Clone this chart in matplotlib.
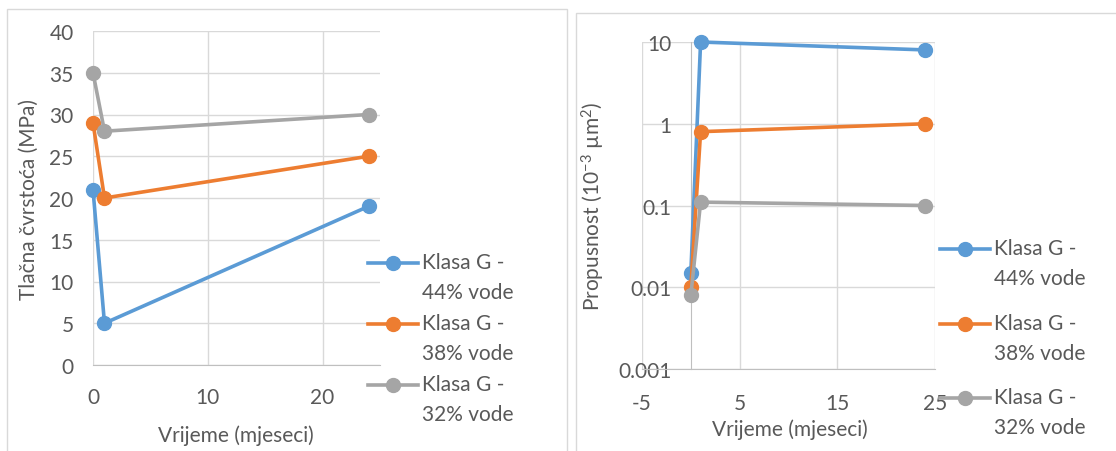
import matplotlib
matplotlib.use("Agg")
import matplotlib.pyplot as plt
from matplotlib.lines import Line2D
from matplotlib.patches import Rectangle
from matplotlib.ticker import FixedLocator, FuncFormatter

plt.rcParams['font.family'] = ['Lato', 'DejaVu Sans']
plt.rcParams['mathtext.fontset'] = 'custom'
plt.rcParams['mathtext.rm'] = 'Lato'
plt.rcParams['mathtext.it'] = 'Lato:italic'
plt.rcParams['mathtext.bf'] = 'Lato:bold'
plt.rcParams['axes.unicode_minus'] = False

# ---- data ----
months = [0, 1, 24]
series_labels = ["Klasa G -", "Klasa G -", "Klasa G -"]
series_second = ["44% vode", "38% vode", "32% vode"]
colors = ["#5B9BD5", "#ED7D31", "#A5A5A5"]

strength_44 = [21, 5, 19]
strength_38 = [29, 20, 25]
strength_32 = [35, 28, 30]

perm_44 = [0.015, 10, 8]
perm_38 = [0.01, 0.8, 1.0]
perm_32 = [0.008, 0.11, 0.1]

left_yticks = [0, 5, 10, 15, 20, 25, 30, 35, 40]
left_xticks = [0, 10, 20]
right_yticks = [0.001, 0.01, 0.1, 1, 10]
right_xticks = [-5, 5, 15, 25]

TEXT = "#595959"
GRID = "#D9D9D9"
AXLINE = "#BFBFBF"
FS = 15

W, H = 1116, 452
fig = plt.figure(figsize=(W / 100, H / 100), dpi=100)

# chart frames
fig.patches.append(Rectangle((7 / W, -0.05), (567 - 7) / W, 1.05 - 10 / H,
                             transform=fig.transFigure, fill=False,
                             edgecolor=GRID, linewidth=1))
fig.patches.append(Rectangle((576 / W, -0.05), (1130 - 576) / W, 1.05 - 14 / H,
                             transform=fig.transFigure, fill=False,
                             edgecolor=GRID, linewidth=1))


def px_axes(x0, y0, x1, y1):
    return fig.add_axes([x0 / W, 1 - y1 / H, (x1 - x0) / W, (y1 - y0) / H])


def style_common(ax):
    for s in ax.spines.values():
        s.set_visible(False)
    ax.tick_params(length=0, colors=TEXT, labelsize=FS)
    ax.grid(True, color=GRID, linewidth=1)
    ax.set_axisbelow(True)


def legend_block(ax, lines, firsts, seconds, x_px, top_px, spacing):
    handles, labels = [], []
    for ln, l1, l2 in zip(lines, firsts, seconds):
        handles.append(ln)
        labels.append(l1)
        handles.append(Line2D([], [], linestyle='none'))
        labels.append(l2)
    leg = ax.legend(handles, labels, loc='upper left',
                    bbox_to_anchor=(x_px / W, 1 - top_px / H),
                    bbox_transform=fig.transFigure, frameon=False,
                    borderpad=0, borderaxespad=0, fontsize=FS,
                    handlelength=2.4, handletextpad=0.19,
                    labelspacing=spacing, handleheight=0.0, labelcolor=TEXT)
    return leg


# ---------------- left chart ----------------
ax1 = px_axes(93, 32, 380, 366)
style_common(ax1)
lines1 = []
for vals, c in zip([strength_44, strength_38, strength_32], colors):
    ln, = ax1.plot(months, vals, color=c, linewidth=2.6, marker='o',
                   markersize=10, clip_on=False, zorder=3)
    lines1.append(ln)
ax1.set_xlim(0, 25)
ax1.set_ylim(0, 40)
ax1.xaxis.set_major_locator(FixedLocator(left_xticks))
ax1.yaxis.set_major_locator(FixedLocator(left_yticks))
ax1.spines['bottom'].set_visible(True)
ax1.spines['bottom'].set_color(AXLINE)
ax1.tick_params(axis='y', pad=14)
ax1.tick_params(axis='x', pad=16)
ax1.set_xlabel("Vrijeme (mjeseci)", fontsize=FS, color=TEXT)
ax1.set_ylabel("Tlačna čvrstoća (MPa)", fontsize=FS, color=TEXT)
ax1.xaxis.set_label_coords(0.498, -0.178)
ax1.yaxis.set_label_coords(-0.19, 0.5)
legend_block(ax1, lines1, series_labels, series_second, 368, 253, 0.5)

# ---------------- right chart ----------------
ax2 = px_axes(642, 43, 935, 370)
style_common(ax2)
lines2 = []
for vals, c in zip([perm_44, perm_38, perm_32], colors):
    ln, = ax2.plot(months, vals, color=c, linewidth=2.6, marker='o',
                   markersize=10, clip_on=False, zorder=3)
    lines2.append(ln)
ax2.set_yscale('log')
ax2.set_xlim(-5, 25)
ax2.set_ylim(0.001, 10)
ax2.xaxis.set_major_locator(FixedLocator(right_xticks))
ax2.yaxis.set_major_locator(FixedLocator(right_yticks))
ax2.yaxis.set_minor_locator(FixedLocator([]))
ax2.yaxis.set_major_formatter(FuncFormatter(lambda v, p: f"{v:g}"))
ax2.spines['left'].set_visible(True)
ax2.spines['left'].set_position(('data', 0))
ax2.spines['left'].set_color(AXLINE)
ax2.spines['bottom'].set_visible(True)
ax2.spines['bottom'].set_color(AXLINE)
ax2.tick_params(axis='y', pad=14)
ax2.tick_params(axis='x', pad=17)
ax2.set_xlabel("Vrijeme (mjeseci)", fontsize=FS, color=TEXT)
ax2.set_ylabel("Propusnost (10$^{\\mathregular{-3}}$ µm$^{\\mathregular{2}}$)",
               fontsize=FS, color=TEXT)
ax2.xaxis.set_label_coords(0.505, -0.152)
ax2.yaxis.set_label_coords(-0.12, 0.5)
# one legend block per series (Excel spaces these entries unevenly)
right_tops = [239, 314, 388]
for i, top in enumerate(right_tops):
    leg = legend_block(ax2, [lines2[i]], [series_labels[i]], [series_second[i]],
                       940, top, 0.48)
    if i < len(right_tops) - 1:
        ax2.add_artist(leg)

fig.savefig("out.png", dpi=100)
